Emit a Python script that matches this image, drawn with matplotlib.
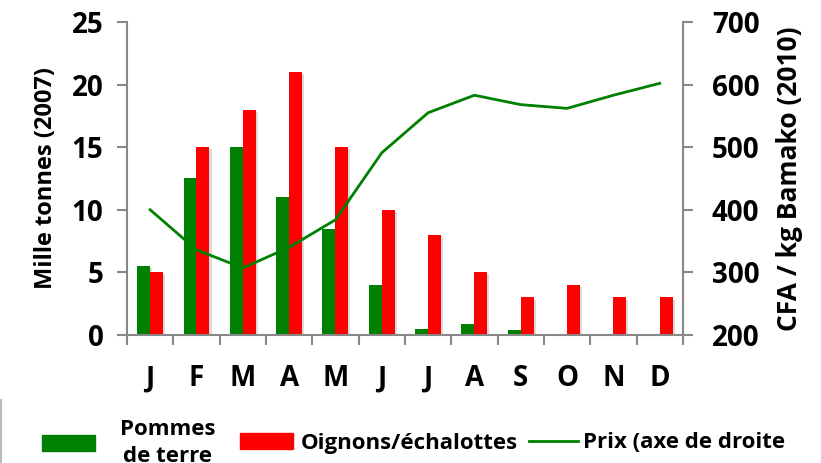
import matplotlib
matplotlib.use("Agg")
import matplotlib.pyplot as plt
import numpy as np
from matplotlib.patches import Patch
from matplotlib.lines import Line2D
import matplotlib.patheffects as pe

months = ["J", "F", "M", "A", "M", "J", "J", "A", "S", "O", "N", "D"]
pommes = [5.5, 12.5, 15, 11, 8.5, 4, 0.5, 0.9, 0.4, 0.05, 0.05, 0.1]
oignons = [5, 15, 18, 21, 15, 10, 8, 5, 3, 4, 3, 3]
prix = [400, 336, 307, 340, 384, 491, 555, 583, 568, 562, 583, 602]

plt.rcParams['font.family'] = ['Open Sans', 'DejaVu Sans']
plt.rcParams['font.weight'] = 'bold'

fig = plt.figure(figsize=(8.21, 4.63), dpi=100)
ax = fig.add_axes([0.1547, 0.2765, 0.677, 0.676])
x = np.arange(len(months))
w = 0.28
green = '#008000'
red = '#FF0000'
shadow = [pe.SimplePatchShadow(offset=(1.5, -1.5), shadow_rgbFace='#999999', alpha=0.35), pe.Normal()]
b1 = ax.bar(x - w/2, pommes, w, color=green, zorder=2)
b2 = ax.bar(x + w/2, oignons, w, color=red, zorder=2)
for r in list(b1) + list(b2):
    r.set_path_effects(shadow)
ax.set_xlim(-0.5, 11.5)
ax.set_ylim(0, 25)
ax.set_yticks([0, 5, 10, 15, 20, 25])
ax.set_xticks(x)
ax.set_xticklabels(months)
ax.set_xticks(np.arange(-0.5, 12, 1), minor=True)
ax.tick_params(axis='x', which='major', length=0, pad=21, labelsize=20)
ax.tick_params(axis='x', which='minor', length=7, color='#888888', width=1.5, direction='out')
ax.tick_params(axis='y', length=7, color='#888888', width=1.5, labelsize=20, pad=10)
for s in ['top', 'right']:
    ax.spines[s].set_visible(False)
for s in ['left', 'bottom']:
    ax.spines[s].set_color('#888888')
    ax.spines[s].set_linewidth(1.5)
ax.set_ylabel("Mille tonnes (2007)", fontsize=17, fontweight='bold', labelpad=10)

ax2 = ax.twinx()
ax2.plot(x, prix, color=green, lw=2, zorder=3)
ax2.set_ylim(200, 700)
ax2.set_yticks([200, 300, 400, 500, 600, 700])
ax2.tick_params(axis='y', length=7, color='#888888', width=1.5, labelsize=20, pad=14)
for s in ['top', 'left', 'bottom']:
    ax2.spines[s].set_visible(False)
ax2.spines['right'].set_color('#888888')
ax2.spines['right'].set_linewidth(1.5)
ax2.set_ylabel("CFA / kg Bamako (2010)", fontsize=19, fontweight='bold', labelpad=12)
for lab in ax.get_yticklabels() + ax2.get_yticklabels() + ax.get_xticklabels():
    lab.set_fontweight('bold')

entries = [
    (Patch(color=green), "Pommes\nde terre", 42, 1.1),
    (Patch(color=red), "Oignons/échalottes", 240, 0.35),
    (Line2D([0], [0], color=green, lw=2), "Prix (axe de droite", 529, 0.25),
]
W, H = 821, 463
for h, lab, px, tp in entries:
    leg = fig.legend([h], [lab], loc='center left', bbox_to_anchor=(px / W, (H - 443) / H),
                     frameon=False, prop={'weight': 'bold', 'size': 16},
                     handlelength=2.4 if px != 529 else 2.2, handleheight=0.75,
                     handletextpad=tp, borderpad=0, borderaxespad=0)
    for t in leg.get_texts():
        t.set_multialignment('center')
        t.set_linespacing(1.4)
fig.add_artist(Line2D([0.001, 0.001], [0, 0.135], color='#bbbbbb', lw=1.5, transform=fig.transFigure))
fig.savefig("out.png", dpi=100)
